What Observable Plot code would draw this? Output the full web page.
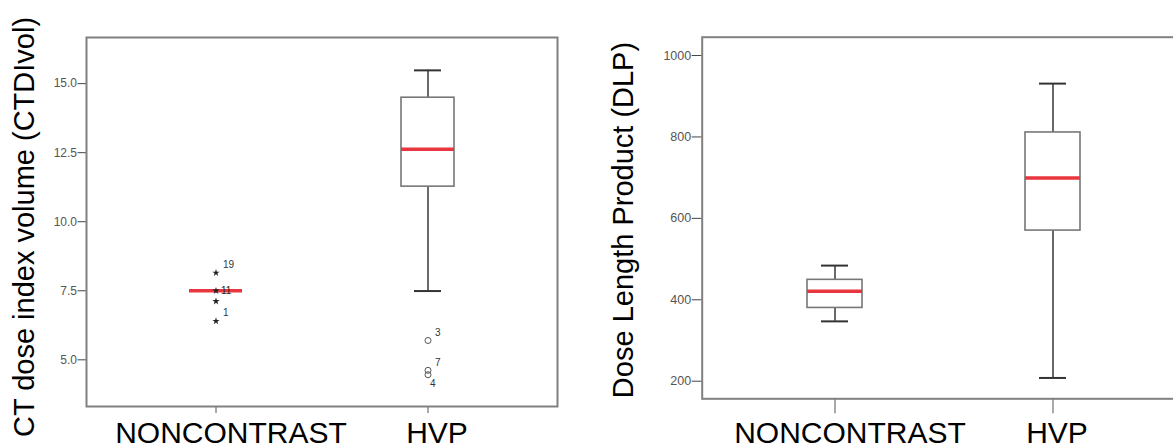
<!DOCTYPE html>
<html><head><meta charset="utf-8">
<script src="https://cdn.jsdelivr.net/npm/d3@7"></script>
<script src="https://cdn.jsdelivr.net/npm/@observablehq/plot@0.6"></script>
<style>
html,body{margin:0;padding:0;background:#fff;overflow:hidden;width:1173px;height:443px;}
#wrap{position:relative;width:1173px;height:443px;overflow:hidden;}
#left{position:absolute;left:0;top:0;}
#right{position:absolute;left:580px;top:0;}
</style></head><body><div id="wrap"><div id="left"></div><div id="right"></div></div>
<script>
// ---- data ----
const groups = ["NONCONTRAST", "HVP"];

// Left panel: CT dose index volume (CTDIvol)
const ctdiMin    = [7.5, 7.49];
const ctdiQ1     = [7.5, 11.27];
const ctdiMedian = [7.5, 12.62];
const ctdiQ3     = [7.5, 14.49];
const ctdiMax    = [7.5, 15.48];
const ctdiTicks  = [5, 7.5, 10, 12.5, 15];
const ctdiOutGroup = ["NONCONTRAST", "NONCONTRAST", "NONCONTRAST", "NONCONTRAST", "HVP", "HVP", "HVP"];
const ctdiOutValue = [8.15, 7.5, 7.12, 6.40, 5.70, 4.62, 4.46];
const ctdiOutLabel = ["19", "11", "", "1", "3", "7", "4"];
const ctdiOutKind  = ["extreme", "extreme", "extreme", "extreme", "outlier", "outlier", "outlier"];
const ctdiOutPlace = ["above", "right", "above", "above", "above", "above", "below"];

// Right panel: Dose Length Product (DLP)
const dlpMin    = [347, 208];
const dlpQ1     = [380, 570];
const dlpMedian = [421, 699];
const dlpQ3     = [449, 811];
const dlpMax    = [484, 931];
const dlpTicks  = [200, 400, 600, 800, 1000];

const font = "'Liberation Sans', Arial, sans-serif";
const red = "#e8363e";

function boxes(mins, q1s, meds, q3s, maxs) {
  return groups.map((g, i) => ({group: g, min: mins[i], q1: q1s[i], median: meds[i], q3: q3s[i], max: maxs[i]}));
}

function boxMarks(data, capInset) {
  return [
    Plot.ruleX(data, {x: "group", y1: "min", y2: "q1", stroke: "#444", strokeWidth: 1.6}),
    Plot.ruleX(data, {x: "group", y1: "q3", y2: "max", stroke: "#444", strokeWidth: 1.6}),
    Plot.tickY(data, {x: "group", y: "min", insetLeft: capInset, insetRight: capInset, stroke: "#333", strokeWidth: 2}),
    Plot.tickY(data, {x: "group", y: "max", insetLeft: capInset, insetRight: capInset, stroke: "#333", strokeWidth: 2}),
    Plot.barY(data, {x: "group", y1: "q1", y2: "q3", fill: "white", stroke: "#777", strokeWidth: 1.6}),
    Plot.tickY(data, {x: "group", y: "median", stroke: red, strokeWidth: 3.5})
  ];
}

function xAxisMarks(tickSize, ncShift, hvpShift) {
  return [
    Plot.axisX({tickSize, text: null, stroke: "#555", label: null}),
    Plot.axisX({ticks: [groups[0]], tickSize: 0, tickPadding: tickSize + 8, dx: ncShift, fontSize: 30, fill: "#000", label: null}),
    Plot.axisX({ticks: [groups[1]], tickSize: 0, tickPadding: tickSize + 8, dx: hvpShift, fontSize: 30, fill: "#000", label: null})
  ];
}

function finish(svg) {
  svg.style.overflow = "visible";
  svg.style.maxWidth = "none";
  svg.style.background = "transparent";
  svg.setAttribute("font-family", font);
  return svg;
}

// ---- left chart ----
const ctdiBoxes = boxes(ctdiMin, ctdiQ1, ctdiMedian, ctdiQ3, ctdiMax);
const ctdiOut = ctdiOutValue.map((v, i) => ({group: ctdiOutGroup[i], value: v, label: ctdiOutLabel[i], kind: ctdiOutKind[i], place: ctdiOutPlace[i]}));

const left = Plot.plot({
  width: 580, height: 443,
  marginLeft: 86, marginRight: 23, marginTop: 37, marginBottom: 37,
  x: {type: "band", domain: groups, range: [109.5, 533.5], paddingInner: 0.75, paddingOuter: 0.375, round: false},
  y: {domain: [3.31, 16.67]},
  marks: [
    Plot.axisY({ticks: ctdiTicks, tickFormat: d => d.toFixed(1), tickSize: 8.5, tickPadding: 1, fontSize: 12, fill: "#555", stroke: "#444", label: null}),
    ...xAxisMarks(7, 15, 9),
    ...boxMarks(ctdiBoxes, 13),
    Plot.dot(ctdiOut.filter(d => d.kind === "extreme"), {x: "group", y: "value", symbol: "star", r: 2.3, fill: "#222", stroke: "none"}),
    Plot.dot(ctdiOut.filter(d => d.kind === "outlier"), {x: "group", y: "value", symbol: "circle", r: 3, fill: "none", stroke: "#555", strokeWidth: 1}),
    Plot.text(ctdiOut.filter(d => d.place === "above"), {x: "group", y: "value", text: "label", dx: 7, dy: -8, fontSize: 10, fill: "#333", textAnchor: "start"}),
    Plot.text(ctdiOut.filter(d => d.place === "right"), {x: "group", y: "value", text: "label", dx: 5, dy: 0, fontSize: 10, fill: "#222", textAnchor: "start"}),
    Plot.text(ctdiOut.filter(d => d.place === "below"), {x: "group", y: "value", text: "label", dx: 2, dy: 9, fontSize: 10, fill: "#333", textAnchor: "start"}),
    Plot.text(["CT dose index volume (CTDIvol)"], {frameAnchor: "left", textAnchor: "middle", rotate: -90, dx: -62, dy: 5, fontSize: 29, fill: "#000"}),
    Plot.frame({stroke: "#808080", strokeWidth: 2})
  ]
});
document.getElementById("left").appendChild(finish(left));

// ---- right chart ----
const dlpBoxes = boxes(dlpMin, dlpQ1, dlpMedian, dlpQ3, dlpMax);
const right = Plot.plot({
  width: 620, height: 443,
  marginLeft: 121.7, marginRight: 15, marginTop: 36.7, marginBottom: 44.7,
  x: {type: "band", domain: groups, range: [145.5, 581.5], paddingInner: 0.7477, paddingOuter: 0.3739, round: false},
  y: {domain: [156.8, 1045]},
  marks: [
    Plot.axisY({ticks: dlpTicks, tickFormat: d => String(d), tickSize: 10, tickPadding: 1, fontSize: 12.5, fill: "#555", stroke: "#444", label: null}),
    ...xAxisMarks(15, 15, 4),
    ...boxMarks(dlpBoxes, 14),
    Plot.text(["Dose Length Product (DLP)"], {frameAnchor: "left", textAnchor: "middle", rotate: -90, dx: -78, dy: 2, fontSize: 29, fill: "#000"}),
    Plot.frame({stroke: "#808080", strokeWidth: 2})
  ]
});
document.getElementById("right").appendChild(finish(right));
</script></body></html>
